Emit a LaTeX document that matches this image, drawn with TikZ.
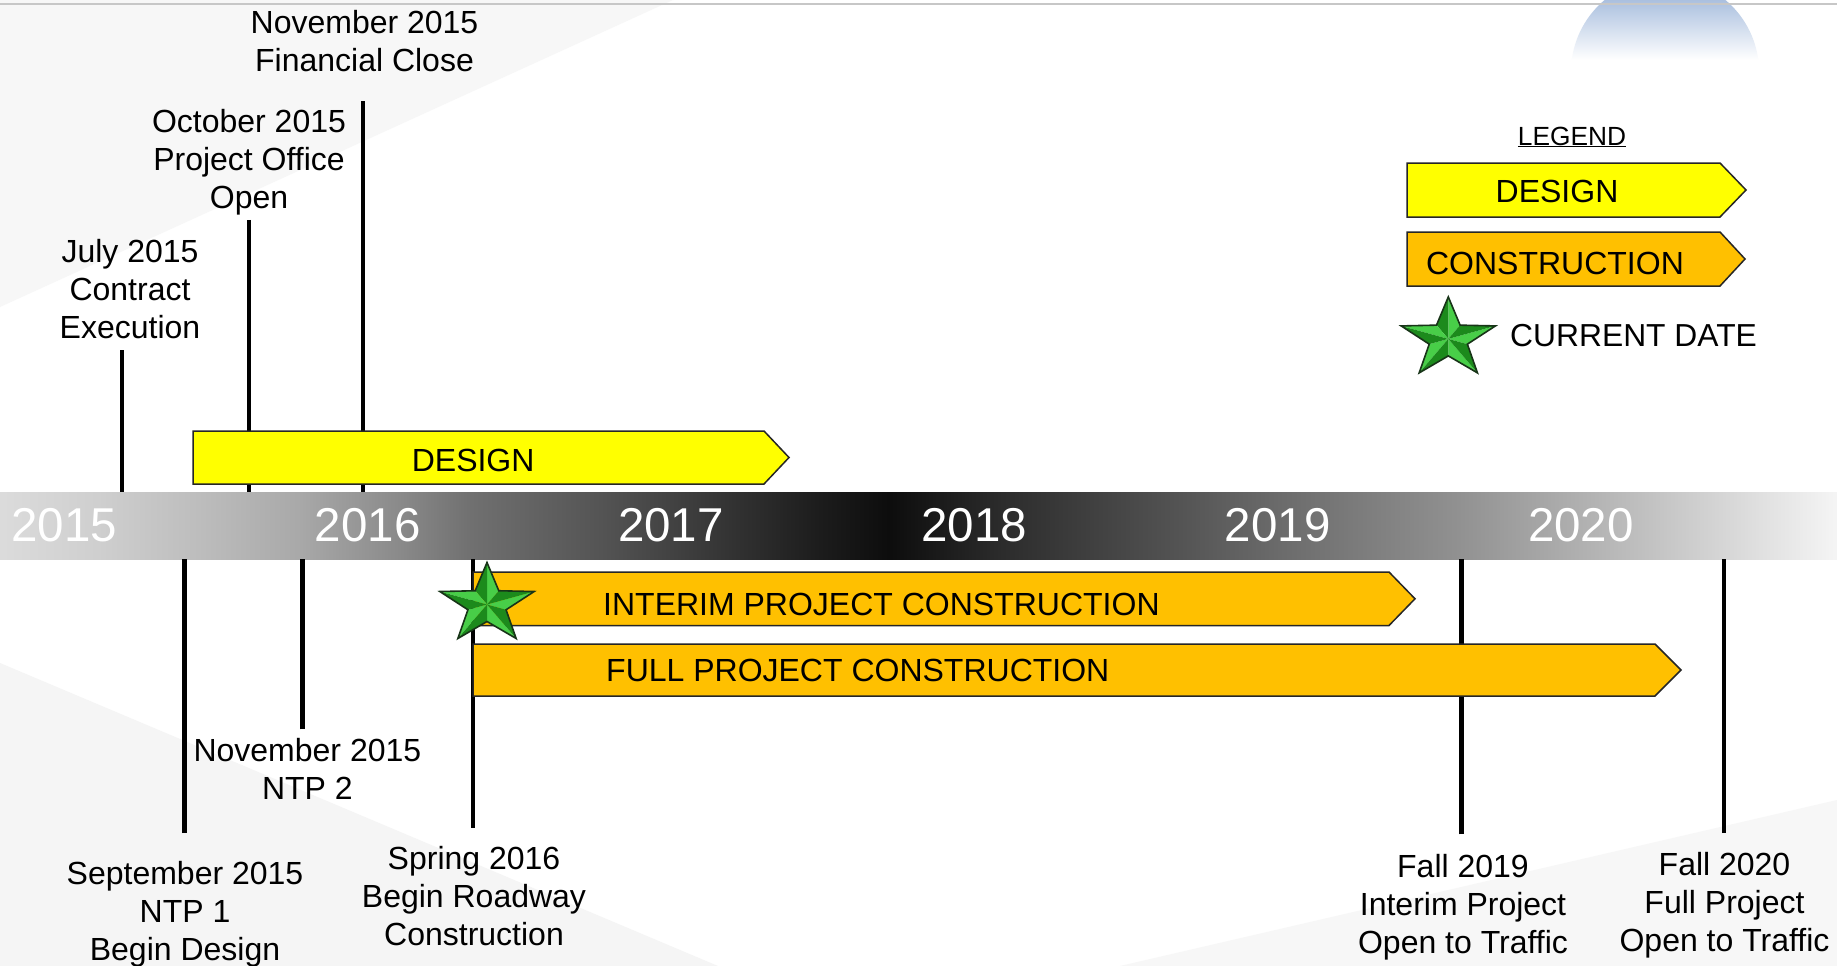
\documentclass[tikz,border=0pt]{standalone}
\usepackage{fontspec}
\setmainfont{Liberation Sans}
\usetikzlibrary{calc}

\definecolor{designyellow}{RGB}{255,255,0}
\definecolor{buildorange}{RGB}{255,192,0}
\definecolor{starlight}{RGB}{72,206,72}
\definecolor{stardark}{RGB}{28,138,28}
\definecolor{staredge}{RGB}{24,52,24}
\definecolor{skyblue}{RGB}{168,190,222}

% grey band behind the years, darkest near 2018
\pgfdeclarehorizontalshading{timelineshade}{100bp}{%
  rgb(0bp)=(0.86,0.86,0.86);
  rgb(25bp)=(0.86,0.86,0.86);
  rgb(27.72bp)=(0.81,0.81,0.81);
  rgb(30.44bp)=(0.74,0.74,0.74);
  rgb(33.17bp)=(0.66,0.66,0.66);
  rgb(35.89bp)=(0.54,0.54,0.54);
  rgb(37.79bp)=(0.44,0.44,0.44);
  rgb(41.33bp)=(0.33,0.33,0.33);
  rgb(47.32bp)=(0.11,0.11,0.11);
  rgb(49.22bp)=(0.05,0.05,0.05);
  rgb(52.22bp)=(0.17,0.17,0.17);
  rgb(56.84bp)=(0.32,0.32,0.32);
  rgb(59.84bp)=(0.42,0.42,0.42);
  rgb(64.74bp)=(0.57,0.57,0.57);
  rgb(69.64bp)=(0.75,0.75,0.75);
  rgb(75bp)=(0.96,0.96,0.96);
  rgb(100bp)=(0.96,0.96,0.96)}

\tikzset{
  mileline/.style={line width=4.5pt},
  phasebar/.style={draw=black!85, line width=1.5pt},
  barlabel/.style={inner sep=0pt, font=\fontsize{32}{38}\selectfont},
  milelabel/.style={align=center, inner sep=0pt, font=\fontsize{32}{38}\selectfont,
    execute at begin node=\strut, execute at end node=\strut},
  yearlabel/.style={inner sep=0pt, text=white, font=\fontsize{47.5}{52}\selectfont},
  datestar/.pic={
    \begin{scope}[xscale=1.18]
      \foreach \a in {-90,-18,54,126,198} {
        \fill[starlight] (0,0) -- (\a:42) -- (\a+36:17) -- cycle;
        \fill[stardark] (0,0) -- (\a:42) -- (\a-36:17) -- cycle;
      }
      \draw[staredge, line width=1.6pt]
        (-90:42) \foreach \a in {-90,-18,54,126,198} { -- (\a:42) -- (\a+36:17) } -- cycle;
    \end{scope}
  }
}

\begin{document}
\begin{tikzpicture}[x=1pt, y=-1pt]
  \useasboundingbox (0,0) rectangle (1837,966);
  \fill[white] (0,0) rectangle (1837,966);

  % faint backdrop
  \fill[black!3] (0,0) -- (673,0) -- (0,307) -- cycle;
  \fill[black!4] (0,663) -- (718,966) -- (0,966) -- cycle;
  \fill[black!3] (1120,966) -- (1837,800) -- (1837,966) -- cycle;
  \begin{scope}
    \clip (1665,72) circle (94);
    \shade[top color=skyblue, bottom color=white] (1560,-2) rectangle (1770,60);
  \end{scope}
  \draw[black!22, line width=1.5pt] (0,4) -- (1837,4);

  % year band
  \node[shade, shading=timelineshade, minimum width=1837pt, minimum height=67pt,
    inner sep=0pt, outer sep=0pt] (timeline) at (918.5,525.5) {};
  \foreach \yr [count=\i from 0] in {2015,2016,2017,2018,2019,2020}
    \node[yearlabel] (yr\yr) at ({64.4+303.3*\i},525.5) {\yr};

  % milestones
  \node[milelabel, anchor=south] (finLbl) at (364.5,83) {November 2015\\Financial Close};
  \node[milelabel, anchor=south] (octLbl) at (249,219.8) {October 2015\\Project Office\\Open};
  \node[milelabel, anchor=south] (julLbl) at (130,350) {July 2015\\Contract\\Execution};
  \node[milelabel, anchor=north] (ntp2Lbl) at (307.4,738) {November 2015\\NTP 2};
  \node[milelabel, anchor=north] (ntp1Lbl) at (185,860.8) {September 2015\\NTP 1\\Begin Design};
  \node[milelabel, anchor=north] (springLbl) at (474,845.8) {Spring 2016\\Begin Roadway\\Construction};
  \node[milelabel, anchor=north] (fall19Lbl) at (1463,854) {Fall 2019\\Interim Project\\Open to Traffic};
  \node[milelabel, anchor=north] (fall20Lbl) at (1724.5,852.4) {Fall 2020\\Full Project\\Open to Traffic};

  \coordinate (mJul) at (121.8,492);
  \coordinate (mOct) at (249,492);
  \coordinate (mFin) at (363,492);
  \coordinate (mNtp1) at (184.5,559);
  \coordinate (mNtp2) at (302.7,559);
  \coordinate (mSpring) at (473,559);
  \coordinate (mFall19) at (1461.5,559);
  \coordinate (mFall20) at (1724,559);

  \draw[mileline] (julLbl.south -| mJul) -- (mJul);
  \draw[mileline] (octLbl.south -| mOct) -- (mOct);
  \draw[mileline, shorten <=18pt] (finLbl.south -| mFin) -- (mFin);
  \draw[mileline, shorten <=8.7pt] (ntp2Lbl.north -| mNtp2) -- (mNtp2);
  \draw[mileline, shorten <=27.8pt] (ntp1Lbl.north -| mNtp1) -- (mNtp1);
  \draw[mileline, shorten <=18pt] (springLbl.north -| mSpring) -- (mSpring);
  \draw[mileline, shorten <=19.7pt] (fall19Lbl.north -| mFall19) -- (mFall19);
  \draw[mileline, shorten <=19.4pt] (fall20Lbl.north -| mFall20) -- (mFall20);

  % phases
  \path[phasebar, fill=designyellow] (193,431) -- (764,431) -- (789,457.5) -- (764,484) -- (193,484) -- cycle;
  \node[barlabel, anchor=west] (designTxt) at (411.6,460.5) {DESIGN};
  \path[phasebar, fill=buildorange] (473,572) -- (1389,572) -- (1415,598.8) -- (1389,625.5) -- (473,625.5) -- cycle;
  \node[barlabel, anchor=west] (interimTxt) at (603,604) {INTERIM PROJECT CONSTRUCTION};
  \path[phasebar, fill=buildorange] (473,644) -- (1655,644) -- (1681,670) -- (1655,696) -- (473,696) -- cycle;
  \node[barlabel, anchor=west] (fullTxt) at (606,670.8) {FULL PROJECT CONSTRUCTION};

  \pic (nowStar) at (487,604.5) {datestar};

  % legend
  \node[anchor=base, inner sep=0pt, font=\fontsize{26.3}{30}\selectfont] (legendTitle) at (1572,145) {\underline{LEGEND}};
  \path[phasebar, fill=designyellow] (1407,163) -- (1720,163) -- (1746,190) -- (1720,217) -- (1407,217) -- cycle;
  \node[barlabel] (legDesign) at (1557,191.7) {DESIGN};
  \path[phasebar, fill=buildorange] (1407,232) -- (1720,232) -- (1745,259) -- (1720,286) -- (1407,286) -- cycle;
  \node[barlabel] (legBuild) at (1555,263) {CONSTRUCTION};
  \pic (legStar) at (1448.3,338.9) {datestar};
  \node[barlabel, anchor=west, font=\fontsize{31.8}{36}\selectfont] (legDate) at (1510,336) {CURRENT DATE};
\end{tikzpicture}
\end{document}
